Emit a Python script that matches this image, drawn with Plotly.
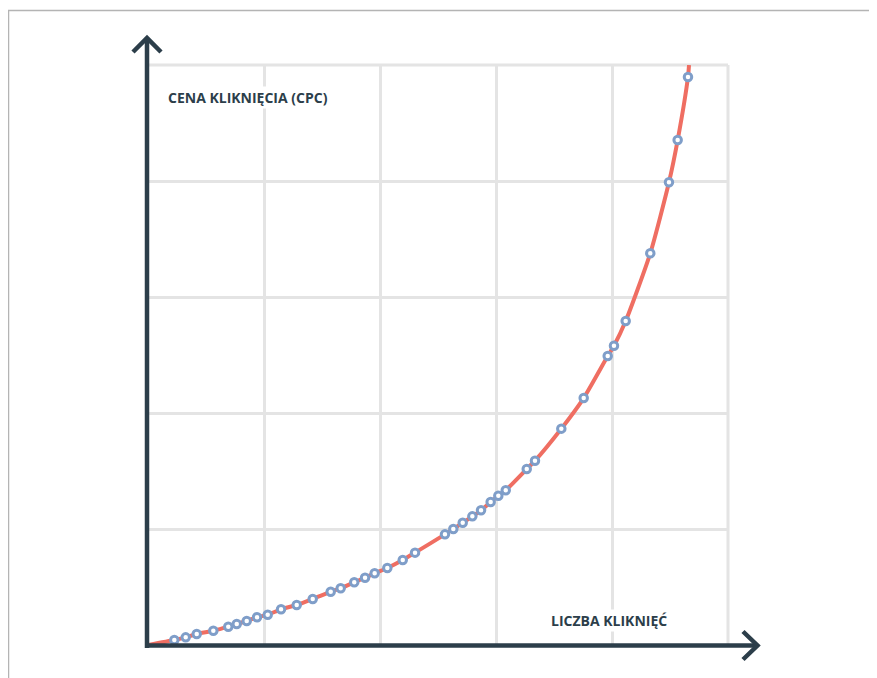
import plotly.graph_objects as go

# Data (grid units)
clicks = [0.227, 0.325, 0.420, 0.563, 0.692, 0.765, 0.851, 0.940, 1.032, 1.147,
          1.282, 1.420, 1.575, 1.661, 1.778, 1.871, 1.954, 2.063, 2.196, 2.302,
          2.560, 2.632, 2.713, 2.796, 2.871, 2.954, 3.020, 3.084, 3.265, 3.336,
          3.563, 3.756, 3.963, 4.017, 4.118, 4.330, 4.491, 4.566, 4.655]
cpc = [0.043, 0.066, 0.095, 0.123, 0.158, 0.181, 0.207, 0.239, 0.261, 0.308,
       0.345, 0.397, 0.459, 0.489, 0.541, 0.580, 0.618, 0.664, 0.733, 0.796,
       0.954, 1.000, 1.054, 1.109, 1.161, 1.233, 1.287, 1.334, 1.517, 1.589,
       1.865, 2.129, 2.491, 2.580, 2.793, 3.377, 3.989, 4.353, 4.897]
curve_start = (0.0, 0.0)
curve_end = (4.664, 5.0)
x_title = "LICZBA KLIKNIĘĆ"
y_title = "CENA KLIKNIĘCIA (CPC)"

# page body has an 8px margin: work in reference pixels, shifted by OFF
OFF = 8
W, H = 877 - OFF, 678 - OFF
L, T = 148 - OFF, 65 - OFF
PW, PH = 580, 580
R, B = W - L - PW, H - T - PH

def px(xp):
    return (xp - OFF - L) / PW

def py(yp):
    return (T + PH - (yp - OFF)) / PH

dark = "#2c3e4a"
line_x = [curve_start[0]] + clicks + [curve_end[0]]
line_y = [curve_start[1]] + cpc + [curve_end[1]]

fig = go.Figure()
fig.add_trace(go.Scatter(x=line_x, y=line_y, mode="lines",
                         line=dict(color="#ef6e62", width=4, shape="spline", smoothing=0.6),
                         hoverinfo="skip", showlegend=False))
fig.add_trace(go.Scatter(x=clicks, y=cpc, mode="markers",
                         marker=dict(size=7.5, color="white",
                                     line=dict(color="#7f9ec9", width=3)),
                         showlegend=False))

shapes = []
# outer frame (top and left edges)
shapes.append(dict(type="line", xref="paper", yref="paper", x0=px(8), y0=py(10.5), x1=px(900), y1=py(10.5),
                   line=dict(color="#b4b4b4", width=1.5), layer="above"))
shapes.append(dict(type="line", xref="paper", yref="paper", x0=px(8.5), y0=py(10), x1=px(8.5), y1=py(700),
                   line=dict(color="#b4b4b4", width=1.5), layer="above"))
# plot-area edges drawn in grid colour (top and right)
grid = "#e4e4e4"
shapes.append(dict(type="line", xref="paper", yref="paper", x0=0, y0=1, x1=1, y1=1,
                   line=dict(color=grid, width=3), layer="below"))
shapes.append(dict(type="line", xref="paper", yref="paper", x0=1, y0=0, x1=1, y1=1,
                   line=dict(color=grid, width=3), layer="below"))
# axes with open arrowheads
ax_w = 4.5
shapes.append(dict(type="line", xref="paper", yref="paper", x0=px(145), y0=py(645.5), x1=px(757), y1=py(645.5),
                   line=dict(color=dark, width=ax_w), layer="above"))
shapes.append(dict(type="line", xref="paper", yref="paper", x0=px(147), y0=py(648), x1=px(147), y1=py(39),
                   line=dict(color=dark, width=ax_w), layer="above"))
shapes.append(dict(type="path", xref="paper", yref="paper",
                   path=f"M {px(743)} {py(631.5)} L {px(757.5)} {py(645.5)} L {px(743)} {py(659.5)}",
                   line=dict(color=dark, width=ax_w), layer="above"))
shapes.append(dict(type="path", xref="paper", yref="paper",
                   path=f"M {px(133)} {py(52)} L {px(147)} {py(38)} L {px(161)} {py(52)}",
                   line=dict(color=dark, width=ax_w), layer="above"))

annotations = [
    dict(text=f"<b>{y_title}</b>", xref="paper", yref="paper", x=px(166), y=py(98),
         xanchor="left", yanchor="middle", showarrow=False, bgcolor="white",
         font=dict(family="Open Sans", size=14, color=dark)),
    dict(text=f"<b>{x_title}</b>", xref="paper", yref="paper", x=px(549), y=py(620),
         xanchor="left", yanchor="middle", showarrow=False, bgcolor="white",
         font=dict(family="Open Sans", size=14, color=dark)),
]

fig.update_layout(
    width=W, height=H,
    margin=dict(l=L, r=R, t=T, b=B),
    paper_bgcolor="white", plot_bgcolor="white",
    xaxis=dict(range=[0, 5], dtick=1, showgrid=True, gridcolor=grid, gridwidth=3,
               zeroline=False, showticklabels=False, ticks="", showline=False, fixedrange=True),
    yaxis=dict(range=[0, 5], dtick=1, showgrid=True, gridcolor=grid, gridwidth=3,
               zeroline=False, showticklabels=False, ticks="", showline=False, fixedrange=True),
    shapes=shapes, annotations=annotations,
)

fig.write_html("out.html")
